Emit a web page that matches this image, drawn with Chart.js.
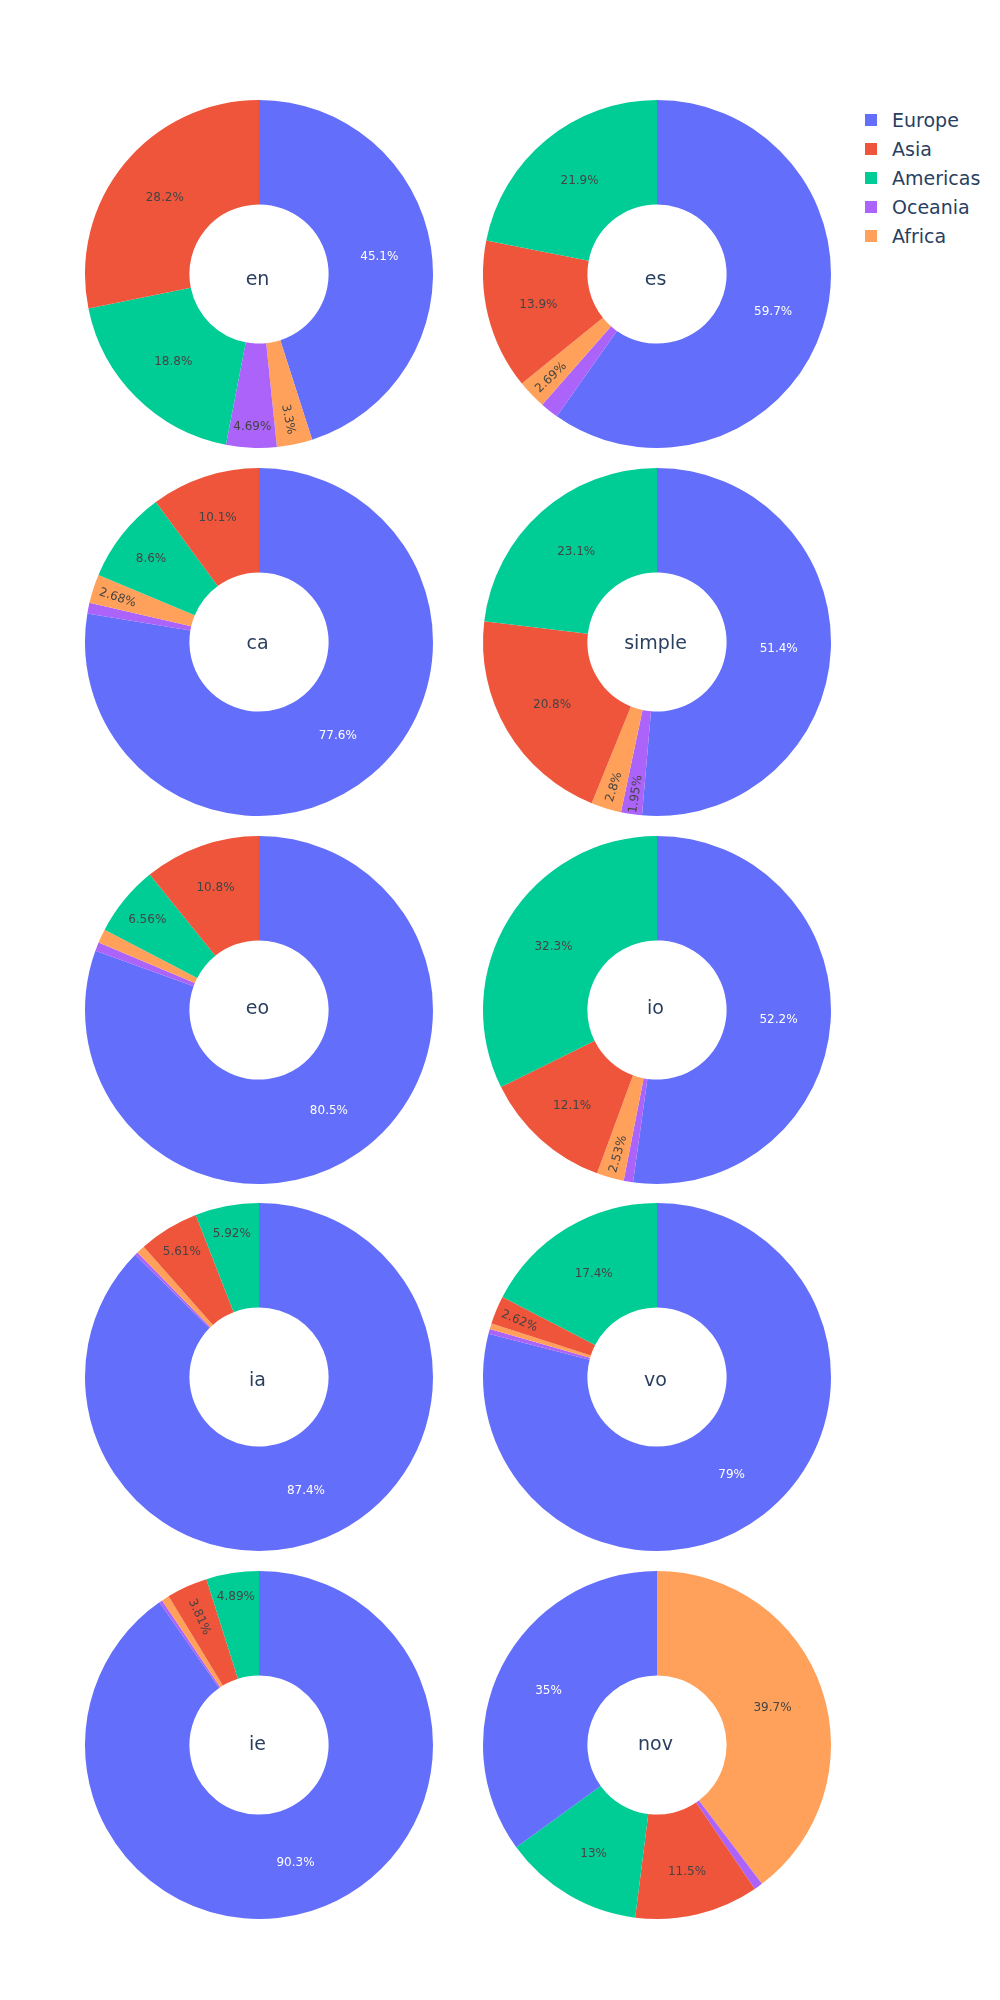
<!DOCTYPE html>
<html>
<head>
<meta charset="utf-8">
<script src="https://cdn.jsdelivr.net/npm/chart.js@4.4.1/dist/chart.umd.min.js"></script>
<style>
  body { margin: 0; background: #fff; }
  #page { position: relative; width: 1000px; height: 2000px; font-family: 'DejaVu Sans', sans-serif; }
  .pie { position: absolute; width: 360px; height: 360px; }
  #legend { position: absolute; left: 865px; top: 105px; }
  .item { display: flex; align-items: center; height: 29px; color: #2a3f5f; font-size: 19px; white-space: nowrap; }
  .swatch { width: 12px; height: 12px; margin-right: 15px; flex: none; }
</style>
</head>
<body>
<div id="page">
  <div id="legend"></div>
</div>
<script>
const continents = ['Europe', 'Asia', 'Americas', 'Oceania', 'Africa'];
const continentColors = ['#636efa', '#EF553B', '#00cc96', '#ab63fa', '#FFA15A'];

const languages = ['en', 'es', 'ca', 'simple', 'eo', 'io', 'ia', 'vo', 'ie', 'nov'];

// share of each continent in %, same order as continents
const enShare = [45.1, 28.2, 18.8, 4.69, 3.3];
const esShare = [59.7, 13.9, 21.9, 1.7, 2.69];
const caShare = [77.6, 10.1, 8.6, 1.0, 2.68];
const simpleShare = [51.4, 20.8, 23.1, 1.95, 2.8];
const eoShare = [80.5, 10.8, 6.56, 0.8, 1.3];
const ioShare = [52.2, 12.1, 32.3, 0.87, 2.53];
const iaShare = [87.4, 5.61, 5.92, 0.3, 0.77];
const voShare = [79.0, 2.62, 17.4, 0.45, 0.53];
const ieShare = [90.3, 3.81, 4.89, 0.3, 0.7];
const novShare = [35.0, 11.5, 13.0, 0.8, 39.7];

const shares = {
  en: enShare, es: esShare, ca: caShare, simple: simpleShare, eo: eoShare,
  io: ioShare, ia: iaShare, vo: voShare, ie: ieShare, nov: novShare,
};

// grid of subplots
const colX = [259, 657];
const rowY = [274, 642, 1010, 1377, 1745];
const titleDrop = [11, 7.3, 3.6, 8.7, 5.3]; // baseline of the hole title below the centre
const OUTER = 174;
const FONT = '"DejaVu Sans", sans-serif';
const TEXT_H = 15.5;

const fmtPct = v => parseFloat(v.toPrecision(3)) + '%';

const textColorFor = hex => {
  const n = parseInt(hex.slice(1), 16);
  const r = n >> 16, g = (n >> 8) & 255, b = n & 255;
  return (r * 299 + g * 587 + b * 114) / 1000 < 128 ? '#fff' : '#444';
};

// same fitting rules as plotly pie inside text (auto orientation)
const maxHalfSize = (a, half, r, ring) => {
  const q = a + 1 / (2 * Math.tan(half));
  return r * Math.min(1 / (Math.sqrt(q * q + 0.5) + q), ring / (Math.sqrt(a * a + ring / 2) + a));
};
const rotDeg = t => ((180 / Math.PI) * t + 720) % 180 - 90;

const fitText = (w, h, r, ring, half, ang) => {
  const rIns = Math.min(1 / (1 + 1 / Math.sin(half)), ring / 2);
  const horiz = { scale: (rIns * r * 2) / Math.sqrt(w * w + h * h), rCenter: 1 - rIns, rotate: 0 };
  if (horiz.scale >= 1) return horiz;
  const ar = w / h;
  const sr = maxHalfSize(ar, half, r, ring);
  const radial = { scale: (sr * 2) / h, rCenter: Math.cos(sr / r) - ar * (sr / r), rotate: rotDeg(ang) };
  const at = h / w;
  const st = maxHalfSize(at, half, r, ring);
  const tang = { scale: (st * 2) / w, rCenter: Math.cos(st / r) - at * (st / r), rotate: rotDeg(ang + Math.PI / 2) };
  const best = [horiz, radial, tang].reduce((m, t) => (t.scale > m.scale ? t : m));
  return best.scale >= 1 ? best : null;
};

const sliceLabels = {
  id: 'sliceLabels',
  afterDatasetsDraw(chart, args, opts) {
    const { ctx } = chart;
    const ds = chart.data.datasets[0];
    const arcs = chart.getDatasetMeta(0).data;
    ctx.save();
    ctx.font = '12px ' + FONT;
    ctx.textAlign = 'center';
    ctx.textBaseline = 'alphabetic';
    arcs.forEach((arc, i) => {
      const { x, y, startAngle, endAngle, innerRadius, outerRadius } = arc.getProps(
        ['x', 'y', 'startAngle', 'endAngle', 'innerRadius', 'outerRadius'], true);
      const text = fmtPct(ds.data[i]);
      const w = ctx.measureText(text).width;
      const mid = (startAngle + endAngle) / 2;
      const half = Math.min((endAngle - startAngle) / 2, Math.PI / 2);
      const t = fitText(w, TEXT_H, outerRadius, (outerRadius - innerRadius) / outerRadius, half, mid + Math.PI / 2);
      if (!t) return;
      const d = t.rCenter * outerRadius;
      ctx.save();
      ctx.translate(x + d * Math.cos(mid), y + d * Math.sin(mid));
      ctx.rotate((t.rotate * Math.PI) / 180);
      ctx.fillStyle = textColorFor(ds.backgroundColor[i]);
      ctx.fillText(text, 0, 4.5);
      ctx.restore();
    });
    // name in the hole
    const { x, y } = arcs[0].getProps(['x', 'y'], true);
    ctx.font = '19px ' + FONT;
    ctx.fillStyle = '#2a3f5f';
    ctx.fillText(opts.title, x - 1.5, y + opts.drop);
    ctx.restore();
  },
};

const renderPie = (lang, idx) => {
  const values = shares[lang];
  // biggest slice first (clockwise from 12 o'clock), the rest smallest to largest
  const ids = values.map((v, i) => i);
  const top = ids.reduce((m, i) => (values[i] > values[m] ? i : m), 0);
  const order = [top, ...ids.filter(i => i !== top).sort((a, b) => values[a] - values[b])];
  const row = Math.floor(idx / 2);

  const box = document.createElement('div');
  box.className = 'pie';
  box.style.left = colX[idx % 2] - 180 + 'px';
  box.style.top = rowY[row] - 180 + 'px';
  const canvas = document.createElement('canvas');
  box.appendChild(canvas);
  document.getElementById('page').appendChild(box);

  new Chart(canvas.getContext('2d'), {
    type: 'doughnut',
    data: {
      labels: order.map(i => continents[i]),
      datasets: [
        {
          data: order.map(i => values[i]),
          backgroundColor: order.map(i => continentColors[i]),
          borderWidth: 0,
        },
      ],
    },
    options: {
      responsive: true,
      maintainAspectRatio: false,
      animation: false,
      radius: OUTER,
      cutout: '40%',
      layout: { padding: 0 },
      plugins: {
        legend: { display: false },
        tooltip: { enabled: false },
        sliceLabels: { title: lang, drop: titleDrop[row] },
      },
    },
    plugins: [sliceLabels],
  });
};

const renderLegend = () => {
  const el = document.getElementById('legend');
  el.innerHTML = continents
    .map(
      (c, i) =>
        `<div class="item"><span class="swatch" style="background:${continentColors[i]}"></span>${c}</div>`
    )
    .join('');
};

document.addEventListener('DOMContentLoaded', () => {
  renderLegend();
  languages.forEach(renderPie);
});
</script>
</body>
</html>
